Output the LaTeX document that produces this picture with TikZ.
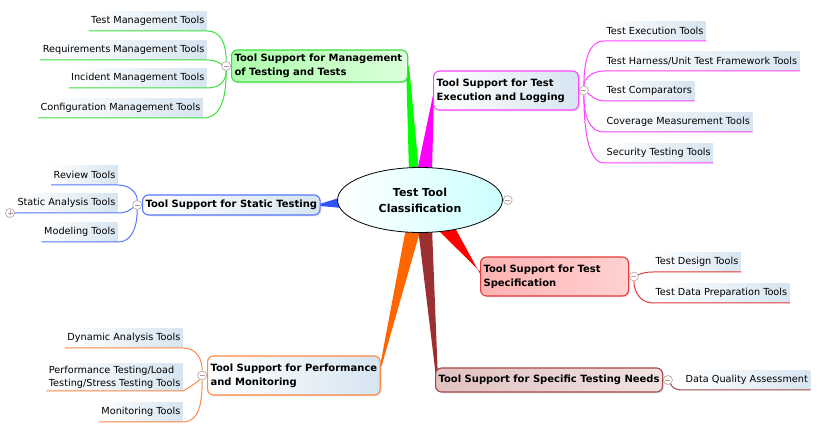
\documentclass[tikz,border=0pt]{standalone}
\usepackage{fontspec}
\setmainfont{DejaVu Sans}
\usetikzlibrary{positioning,calc,shadows,shapes.geometric}
\pgfdeclarelayer{bg}
\pgfsetlayers{bg,main}

\definecolor{grn}{HTML}{00FF00}
\definecolor{grnline}{HTML}{3CE03C}
\definecolor{mag}{HTML}{FF00FF}
\definecolor{magline}{HTML}{FF44FF}
\definecolor{blu}{HTML}{3355FF}
\definecolor{bluline}{HTML}{5577FF}
\definecolor{rd}{HTML}{FF0000}
\definecolor{rdline}{HTML}{E23C3C}
\definecolor{org}{HTML}{FF6600}
\definecolor{orgline}{HTML}{FF8844}
\definecolor{brn}{HTML}{9C3030}
\definecolor{brnline}{HTML}{A04848}
\definecolor{paleblue}{HTML}{D6E5F1}
\definecolor{rootcyan}{HTML}{CCFFFF}
\definecolor{foldc}{HTML}{B39C9C}

\newcommand\mmfont{\fontsize{10}{14}\selectfont}
\newcommand\leaffont{\fontsize{9.7}{13.5}\selectfont}

\tikzset{
  topic/.style n args={3}{draw=#1, left color=#2, right color=#3, line width=1.1pt,
    rounded corners=6pt, align=left, anchor=west, inner xsep=3pt, inner ysep=3pt,
    font=\mmfont\bfseries,
    drop shadow={opacity=0.2, shadow xshift=1.5pt, shadow yshift=-1.5pt}},
  leaf/.style={left color=white, right color=paleblue, inner xsep=2.5pt, inner ysep=2pt,
    minimum height=19pt, align=left, font=\leaffont},
  twig/.style={draw=#1, line width=1pt},
  fold/.style={circle, draw=foldc, fill=white, line width=0.6pt, minimum size=9pt, inner sep=0pt,
    path picture={\draw[foldc, line width=0.6pt]
      ($(path picture bounding box.west)+(2pt,0)$) -- ($(path picture bounding box.east)+(-2pt,0)$);}},
  unfold/.style={circle, draw=foldc, fill=white, line width=0.6pt, minimum size=9pt, inner sep=0pt,
    path picture={\draw[foldc, line width=0.6pt]
      ($(path picture bounding box.west)+(2pt,0)$) -- ($(path picture bounding box.east)+(-2pt,0)$)
      ($(path picture bounding box.north)+(0,-2pt)$) -- ($(path picture bounding box.south)+(0,2pt)$);}},
}

\begin{document}
\begin{tikzpicture}[x=1pt, y=-1pt]
\useasboundingbox (0,0) rectangle (828,435);

% centre
\node[ellipse, draw, line width=0.8pt, minimum width=165pt, minimum height=65pt,
  left color=white, right color=rootcyan, font=\fontsize{11}{16}\selectfont\bfseries, align=center]
  (root) at (420,200) {Test Tool\\Classification};
\node[fold, right=0pt of root] (rootF) {};

% main topics
\node[topic={grnline}{green!32}{green!14}, text width=170pt, minimum height=32pt] (mgt) at (231,66) {Tool Support for Management\\of Testing and Tests};
\node[topic={magline}{white}{paleblue}, text width=139pt, minimum height=39pt] (exe) at (433,90.5) {Tool Support for Test\\Execution and Logging};
\node[topic={bluline}{white}{paleblue}, minimum height=20pt] (stat) at (142,205) {Tool Support for Static Testing};
\node[topic={rdline}{red!30}{red!18}, text width=142pt, minimum height=39pt] (spec) at (480,276.5) {Tool Support for Test\\Specification};
\node[topic={orgline}{white}{paleblue}, minimum height=39pt] (perf) at (207,375.5) {Tool Support for Performance\\and Monitoring};
\node[topic={brnline}{brn!30}{brn!14}, minimum height=24pt] (need) at (435,380) {Tool Support for Specific Testing Needs};

\node[fold, left=0pt of mgt] (mgtF) {};
\node[fold, right=0pt of exe] (exeF) {};
\node[fold, left=0pt of stat] (statF) {};
\node[fold, right=0pt of spec] (specF) {};
\node[fold, left=0pt of perf] (perfF) {};
\node[fold, right=0pt of need] (needF) {};

% branches from the centre
\begin{pgfonlayer}{bg}
\fill[grn] ($(root)+(-11,-28)$) -- ($(mgt.east)+(-2,0)$) -- ($(mgt.east)+(1,0)$) -- ($(root)+(-1,-28)$) -- cycle;
\fill[mag] ($(root)+(-3,-28)$) -- ($(exe.west)+(1,0)$) -- ($(exe.west)+(1,3)$) -- ($(root)+(12,-28)$) -- cycle;
\fill[blu] ($(root)+(-78,-3)$) -- ($(stat.east)+(-1,-1)$) -- ($(stat.east)+(-1,1)$) -- ($(root)+(-78,8)$) -- cycle;
\fill[rd] ($(root)+(16,28)$) -- ($(spec.west)+(1,-4)$) -- ($(spec.west)+(1,-1)$) -- ($(root)+(34,26)$) -- cycle;
\fill[org] ($(root)+(-14,28)$) -- ($(perf.east)+(-1,-8)$) -- ($(perf.east)+(1,-10)$) -- ($(root)+(1,28)$) -- cycle;
\fill[brn] ($(root)+(-2,28)$) -- ($(need.west)+(1,-3)$) -- ($(need.west)+(3,0)$) -- ($(root)+(12,28)$) -- cycle;
\end{pgfonlayer}

% management
\node[leaf, anchor=south east] (t1) at (207,31) {Test Management Tools};
\node[leaf, anchor=south east] (t2) at (207,60) {Requirements Management Tools};
\node[leaf, anchor=south east] (t3) at (207,88) {Incident Management Tools};
\node[leaf, anchor=south east] (t4) at (203,118) {Configuration Management Tools};
\draw[twig=grnline] (t1.south west) -- (t1.south east) .. controls +(14,0) and +(0,-22) .. (mgtF);
\draw[twig=grnline] (t2.south west) -- (t2.south east) .. controls +(10,0) and +(-6,-2) .. (mgtF);
\draw[twig=grnline] (t3.south west) -- (t3.south east) .. controls +(14,0) and +(0,14) .. (mgtF);
\draw[twig=grnline] (t4.south west) -- (t4.south east) .. controls +(18,0) and +(0,32) .. (mgtF);

% execution
\node[leaf, anchor=south west] (e1) at (604,41) {Test Execution Tools};
\node[leaf, anchor=south west] (e2) at (604,71) {Test Harness/Unit Test Framework Tools};
\node[leaf, anchor=south west] (e3) at (604,101) {Test Comparators};
\node[leaf, anchor=south west] (e4) at (604,132) {Coverage Measurement Tools};
\node[leaf, anchor=south west] (e5) at (604,163) {Security Testing Tools};
\draw[twig=magline] (exeF) .. controls +(0,-30) and +(-15,0) .. (e1.south west) -- (e1.south east);
\draw[twig=magline] (exeF) .. controls +(0,-12) and +(-12,0) .. (e2.south west) -- (e2.south east);
\draw[twig=magline] (exeF) .. controls +(6,4) and +(-8,0) .. (e3.south west) -- (e3.south east);
\draw[twig=magline] (exeF) .. controls +(0,25) and +(-15,0) .. (e4.south west) -- (e4.south east);
\draw[twig=magline] (exeF) .. controls +(0,42) and +(-15,0) .. (e5.south west) -- (e5.south east);

% static
\node[leaf, anchor=south east] (s1) at (118,185) {Review Tools};
\node[leaf, anchor=south east] (s2) at (118,213) {Static Analysis Tools};
\node[leaf, anchor=south east] (s3) at (118,242) {Modeling Tools};
\node[unfold, left=0pt of s2.south west] (s2F) {};
\draw[twig=bluline] (s1.south west) -- (s1.south east) .. controls +(12,0) and +(0,-12) .. (statF);
\draw[twig=bluline] (s2.south west) -- (s2.south east) .. controls +(10,0) and +(-5,3) .. (statF);
\draw[twig=bluline] (s3.south west) -- (s3.south east) .. controls +(14,0) and +(0,22) .. (statF);

% specification
\node[leaf, anchor=south west] (d1) at (653,272) {Test Design Tools};
\node[leaf, anchor=south west] (d2) at (653,303) {Test Data Preparation Tools};
\draw[twig=rdline] (specF) .. controls +(8,-3) and +(-8,0) .. (d1.south west) -- (d1.south east);
\draw[twig=rdline] (specF) .. controls +(0,16) and +(-12,0) .. (d2.south west) -- (d2.south east);

% performance
\node[leaf, anchor=south east] (p1) at (183,348) {Dynamic Analysis Tools};
\node[leaf, anchor=south east] (p2) at (183,391) {Performance Testing/Load\\Testing/Stress Testing Tools};
\node[leaf, anchor=south east] (p3) at (183,422) {Monitoring Tools};
\draw[twig=orgline] (p1.south west) -- (p1.south east) .. controls +(14,0) and +(0,-16) .. (perfF);
\draw[twig=orgline] (p2.south west) -- (p2.south east) .. controls +(6,-3) and +(-3,5) .. (perfF);
\draw[twig=orgline] (p3.south west) -- (p3.south east) .. controls +(16,0) and +(0,28) .. (perfF);

% specific needs
\node[leaf, anchor=south west] (q1) at (683,390) {Data Quality Assessment};
\draw[twig=brnline] (needF) .. controls +(4,6) and +(-10,0) .. (q1.south west) -- (q1.south east);

\end{tikzpicture}
\end{document}
